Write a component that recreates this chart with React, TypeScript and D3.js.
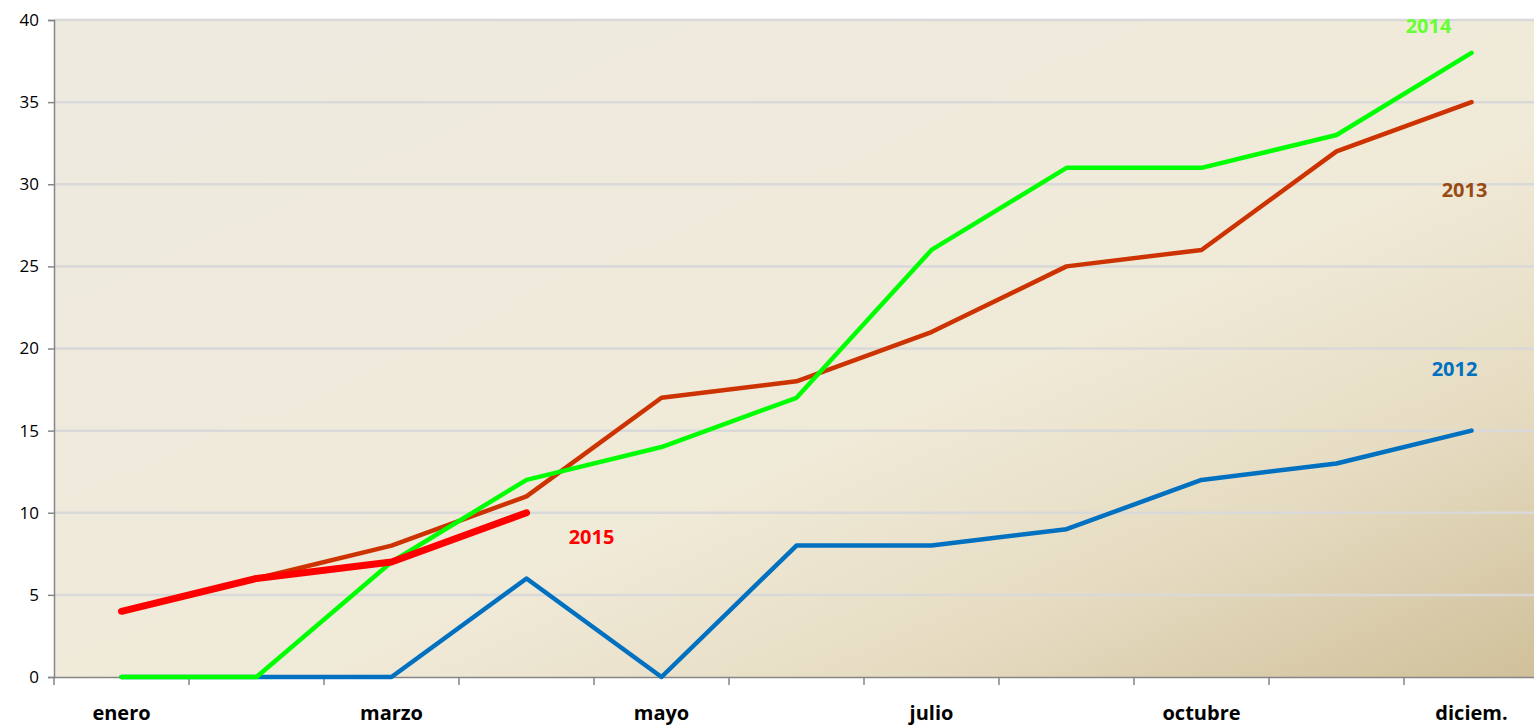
import React, { useEffect, useRef } from 'react';
import * as d3 from 'd3';

const months = ['enero', 'febrero', 'marzo', 'abril', 'mayo', 'junio', 'julio', 'septiem.', 'octubre', 'noviem.', 'diciem.'];
const shownMonths = ['enero', 'marzo', 'mayo', 'julio', 'octubre', 'diciem.'];
const yTicks = [0, 5, 10, 15, 20, 25, 30, 35, 40];

const values2012 = [0, 0, 0, 6, 0, 8, 8, 9, 12, 13, 15];
const values2013 = [4, 6, 8, 11, 17, 18, 21, 25, 26, 32, 35];
const values2014 = [0, 0, 7, 12, 14, 17, 26, 31, 31, 33, 38];
const values2015 = [4, 6, 7, 10];

const series = [
  { name: '2012', values: values2012, color: '#0070C0', width: 4.5 },
  { name: '2013', values: values2013, color: '#CC3300', width: 4.5 },
  { name: '2014', values: values2014, color: '#00FF00', width: 4.5 },
  { name: '2015', values: values2015, color: '#FF0000', width: 7 },
];

// label placement: [month index, value] anchor for each series name
const labels = [
  { name: '2014', at: 10, v: 39.2, dx: -43, color: '#66FF33' },
  { name: '2013', at: 10, v: 29.2, dx: -7, color: '#994A12' },
  { name: '2012', at: 10, v: 18.3, dx: -17, color: '#0070C0' },
  { name: '2015', at: 3, v: 8.1, dx: 65, color: '#FF0000' },
];

const App = () => {
  const svgRef = useRef<SVGSVGElement>(null);

  useEffect(() => {
    const svg = d3.select(svgRef.current);
    svg.selectAll('*').remove();

    const W = 1534, H = 725;
    const margin = { top: 20, left: 54, bottom: 48 };
    const plotRight = margin.left + 135 * months.length;
    const innerH = H - margin.top - margin.bottom;

    svg.attr('width', W).attr('height', H);

    const x = d3.scaleBand().domain(months).range([margin.left, plotRight]).padding(0);
    const y = d3.scaleLinear().domain([0, 40]).range([margin.top + innerH, margin.top]);
    const cx = (i: number) => (x(months[i]) as number) + x.bandwidth() / 2;

    const defs = svg.append('defs');
    const grad = defs.append('linearGradient')
      .attr('id', 'bg')
      .attr('x1', '0').attr('y1', '0').attr('x2', '1').attr('y2', '1');
    grad.append('stop').attr('offset', '0%').attr('stop-color', '#EDEAE0');
    grad.append('stop').attr('offset', '58%').attr('stop-color', '#F0EAD8');
    grad.append('stop').attr('offset', '78%').attr('stop-color', '#E6DCC2');
    grad.append('stop').attr('offset', '100%').attr('stop-color', '#D0C09A');

    svg.append('rect')
      .attr('x', margin.left).attr('y', y(40))
      .attr('width', plotRight - margin.left).attr('height', y(0) - y(40))
      .attr('fill', 'url(#bg)');

    // gridlines
    svg.append('g').selectAll('line')
      .data(yTicks.filter(t => t > 0))
      .enter().append('line')
      .attr('x1', margin.left).attr('x2', plotRight)
      .attr('y1', d => y(d)).attr('y2', d => y(d))
      .attr('stroke', '#D9D9D9').attr('stroke-width', 2.5);

    // y axis
    const yAxis = svg.append('g')
      .attr('transform', `translate(${margin.left},0)`)
      .call(d3.axisLeft(y).tickValues(yTicks).tickSize(6).tickPadding(9));
    yAxis.selectAll('path, line').attr('stroke', '#868686').attr('stroke-width', 1.5);
    yAxis.selectAll('text')
      .attr('font-family', '"Open Sans", sans-serif').attr('font-size', 17).attr('fill', '#000');

    // x axis
    const xAxis = svg.append('g')
      .attr('transform', `translate(0,${y(0)})`)
      .call(d3.axisBottom(x).tickSize(0).tickFormat(d => (shownMonths.includes(d) ? d : '')));
    xAxis.select('.domain').attr('stroke', '#868686').attr('stroke-width', 1.5);
    xAxis.selectAll('text')
      .attr('dy', 0).attr('y', 43)
      .attr('font-family', '"Open Sans", sans-serif').attr('font-size', 20)
      .attr('font-weight', 'bold').attr('fill', '#000');
    xAxis.append('g').selectAll('line')
      .data(months)
      .enter().append('line')
      .attr('x1', d => x(d) as number).attr('x2', d => x(d) as number)
      .attr('y1', 0).attr('y2', 8)
      .attr('stroke', '#868686').attr('stroke-width', 1.5);

    const line = d3.line<number>()
      .x((_, i) => cx(i))
      .y(d => y(d));

    svg.append('g').selectAll('path')
      .data(series)
      .enter().append('path')
      .attr('d', d => line(d.values))
      .attr('fill', 'none')
      .attr('stroke', d => d.color)
      .attr('stroke-width', d => d.width)
      .attr('stroke-linecap', 'round')
      .attr('stroke-linejoin', 'round');

    svg.append('g').selectAll('text')
      .data(labels)
      .enter().append('text')
      .attr('x', d => cx(d.at) + d.dx)
      .attr('y', d => y(d.v))
      .attr('text-anchor', 'middle')
      .attr('font-family', '"Open Sans", sans-serif')
      .attr('font-size', 20).attr('font-weight', 'bold')
      .attr('fill', d => d.color)
      .text(d => d.name);
  }, []);

  return <svg ref={svgRef} style={{ position: 'absolute', left: 0, top: 0 }} aria-label="Evolución anual" />;
};

export default App;
